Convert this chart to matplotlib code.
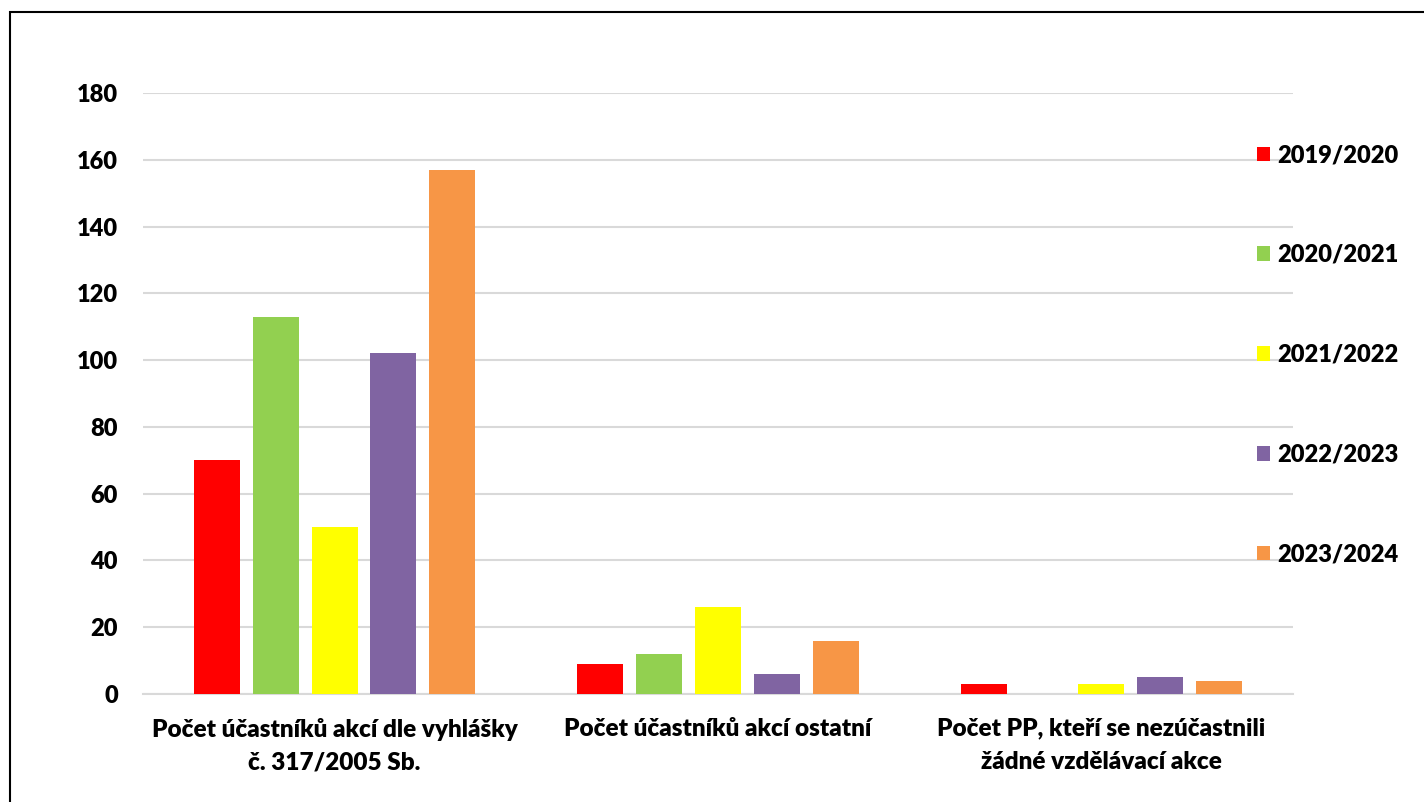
import numpy as np
import matplotlib
matplotlib.use("Agg")
import matplotlib.pyplot as plt
from matplotlib.patches import Rectangle

plt.rcParams['font.family'] = ['Lato', 'DejaVu Sans']
plt.rcParams['font.weight'] = 'heavy'

categories = ['Počet účastníků akcí dle vyhlášky\nč. 317/2005 Sb.',
              'Počet účastníků akcí ostatní',
              'Počet PP, kteří se nezúčastnili\nžádné vzdělávací akce']
years = ['2019/2020', '2020/2021', '2021/2022', '2022/2023', '2023/2024']
values = {
    '2019/2020': [70, 9, 3],
    '2020/2021': [113, 12, 0],
    '2021/2022': [50, 26, 3],
    '2022/2023': [102, 6, 5],
    '2023/2024': [157, 16, 4],
}
colors = ['#FF0000', '#92D050', '#FFFF00', '#8064A2', '#F79646']

fig = plt.figure(figsize=(14.24, 8.02), dpi=100)
ax = fig.add_axes([143/1424, 1-694/802, 1150/1424, 601/802])

x = np.arange(len(categories))
step = 0.1534
width = 0.12
for i, y in enumerate(years):
    ax.bar(x + (i - 2) * step, values[y], width, color=colors[i], label=y, zorder=3)

ax.set_xlim(-0.5, 2.5)
ax.set_ylim(0, 180)
ax.set_yticks(range(0, 181, 20))
ax.yaxis.grid(True, color='#d9d9d9', linewidth=1.5, zorder=0)
for s in ['top', 'right', 'left']:
    ax.spines[s].set_visible(False)
ax.spines['bottom'].set_color('#d9d9d9')
ax.spines['bottom'].set_linewidth(1.5)
ax.set_xticks(x)
ax.set_xticklabels(categories, fontsize=17.5, fontweight='heavy', linespacing=1.62)
ax.tick_params(axis='both', length=0)
ax.tick_params(axis='x', pad=17)
ax.tick_params(axis='y', labelsize=17, pad=18)
for t in ax.get_yticklabels():
    t.set_fontweight('heavy')

leg = fig.legend(loc='upper left', bbox_to_anchor=(1257/1424, 1-144/802),
                 frameon=False, prop={'weight': 'heavy', 'size': 17},
                 handlelength=0.55, handleheight=0.55, handletextpad=0.3,
                 labelspacing=3.3, borderpad=0, borderaxespad=0)

fig.patches.append(Rectangle((10/1424, -0.05), 1.1, 1-12/802+0.05,
                             transform=fig.transFigure, fill=False,
                             edgecolor='black', linewidth=1.5))

fig.savefig('out.png', dpi=100)
